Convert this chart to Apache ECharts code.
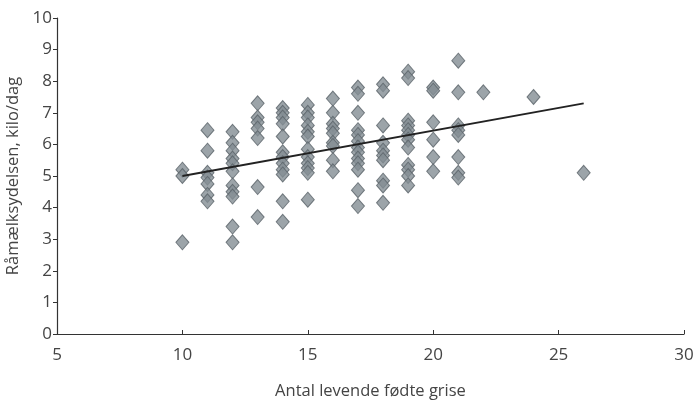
<!DOCTYPE html>
<html>
<head>
<meta charset="utf-8">
<script src="https://cdn.jsdelivr.net/npm/echarts@6/dist/echarts.min.js"></script>
<style>html,body{margin:0;padding:0;background:#fff;}#c{width:697px;height:405px;}</style>
</head>
<body>
<div id="c"></div>
<script>
// Antal levende fødte grise (x) vs Råmælksydelsen kilo/dag (y)
const x10 = [5.2, 5.0, 2.9];
const x11 = [6.45, 5.8, 5.1, 4.95, 4.75, 4.4, 4.2];
const x12 = [6.4, 6.05, 5.8, 5.55, 5.4, 5.15, 4.7, 4.5, 4.35, 3.4, 2.9];
const x13 = [7.3, 6.85, 6.7, 6.5, 6.2, 4.65, 3.7];
const x14 = [7.15, 7.0, 6.85, 6.65, 6.25, 5.75, 5.6, 5.4, 5.2, 5.05, 4.2, 3.55];
const x15 = [7.25, 7.0, 6.85, 6.6, 6.4, 6.25, 5.85, 5.6, 5.4, 5.25, 5.1, 4.25];
const x16 = [7.45, 7.0, 6.65, 6.5, 6.35, 6.05, 5.95, 5.5, 5.15];
const x17 = [7.8, 7.6, 7.0, 6.45, 6.3, 6.1, 5.9, 5.75, 5.55, 5.4, 5.2, 4.55, 4.05];
const x18 = [7.9, 7.7, 6.6, 6.05, 5.8, 5.65, 5.5, 4.85, 4.7, 4.15];
const x19 = [8.3, 8.1, 6.75, 6.6, 6.45, 6.3, 6.15, 5.9, 5.35, 5.2, 5.0, 4.7];
const x20 = [7.8, 7.7, 6.7, 6.15, 5.6, 5.15];
const x21 = [8.65, 7.65, 6.6, 6.45, 6.3, 5.6, 5.1, 4.95];
const x22 = [7.65];
const x24 = [7.5];
const x26 = [5.1];
const columns = [[10,x10],[11,x11],[12,x12],[13,x13],[14,x14],[15,x15],[16,x16],[17,x17],[18,x18],[19,x19],[20,x20],[21,x21],[22,x22],[24,x24],[26,x26]];
const trendX = [10, 26];
const trendY = [5.0, 7.3];
const xTicks = [5, 10, 15, 20, 25, 30];
const yTicks = [0, 1, 2, 3, 4, 5, 6, 7, 8, 9, 10];

const points = [];
columns.forEach(([x, ys]) => ys.forEach(y => points.push([x, y])));
const trend = trendX.map((x, i) => [x, trendY[i]]);

const font = "'Open Sans', sans-serif";
const chart = echarts.init(document.getElementById('c'));
chart.setOption({
  animation: false,
  grid: {left: 57, right: 13, top: 18, bottom: 71, containLabel: false, outerBoundsMode: 'none'},
  xAxis: {
    type: 'value', min: 5, max: 30, interval: 5,
    name: 'Antal levende fødte grise', nameLocation: 'middle', nameGap: 49,
    nameTextStyle: {fontFamily: font, fontSize: 16.5, color: '#444'},
    axisLine: {lineStyle: {color: '#333', width: 1.2}},
    axisTick: {show: true, inside: true, length: 4, lineStyle: {color: '#333'}},
    axisLabel: {fontFamily: font, fontSize: 17, color: '#444', margin: 13},
    splitLine: {show: false}
  },
  yAxis: {
    type: 'value', min: 0, max: 10, interval: 1,
    name: 'Råmælksydelsen, kilo/dag', nameLocation: 'middle', nameGap: 27,
    nameTextStyle: {fontFamily: font, fontSize: 16.5, color: '#444'},
    axisLine: {show: true, lineStyle: {color: '#333', width: 1.2}},
    axisTick: {show: true, length: 4, lineStyle: {color: '#333'}},
    axisLabel: {fontFamily: font, fontSize: 17, color: '#444', margin: 5},
    splitLine: {show: false}
  },
  series: [
    {
      type: 'scatter', data: points, symbol: 'diamond', symbolSize: [13, 15],
      itemStyle: {color: '#838d94', borderColor: '#5a6369', borderWidth: 1}
    },
    {
      type: 'line', data: trend, symbol: 'none',
      lineStyle: {color: '#222', width: 1.8}, z: 3
    }
  ]
});
</script>
</body>
</html>
